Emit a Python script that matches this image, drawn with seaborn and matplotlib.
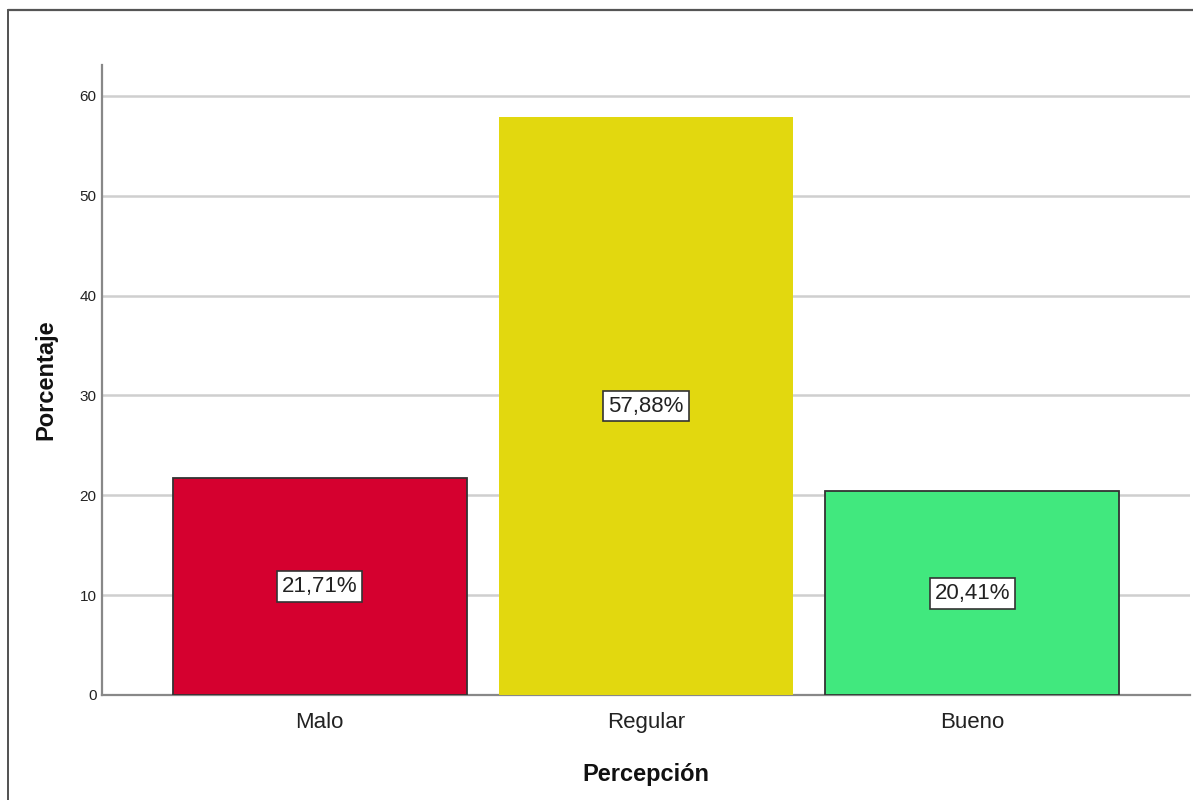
import matplotlib
matplotlib.use("Agg")
import matplotlib.pyplot as plt
import seaborn as sns
import pandas as pd
from matplotlib.lines import Line2D

categories = ["Malo", "Regular", "Bueno"]
porcentajes = [21.71, 57.88, 20.41]
etiquetas = ["21,71%", "57,88%", "20,41%"]
colores = ["#d5002f", "#e2d80f", "#41e87e"]
bordes = ["#333333", "none", "#333333"]
yticks = [0, 10, 20, 30, 40, 50, 60]

df = pd.DataFrame({"Percepción": categories, "Porcentaje": porcentajes})

sns.set_style("white")
plt.rcParams["font.family"] = ["Liberation Sans", "DejaVu Sans"]

fig = plt.figure(figsize=(11.93, 8.0), dpi=100)
ax = fig.add_axes([102 / 1193, 105 / 800, 1088 / 1193, 630 / 800])

sns.barplot(data=df, x="Percepción", y="Porcentaje", hue="Percepción",
            palette=colores, saturation=1, width=0.9, ax=ax, legend=False,
            zorder=3)

for patch, ec in zip(ax.patches, bordes):
    if ec == "none":
        patch.set_edgecolor("none")
    else:
        patch.set_edgecolor(ec)
        patch.set_linewidth(1.3)

for i, (v, lab) in enumerate(zip(porcentajes, etiquetas)):
    ax.text(i, v / 2, lab, ha="center", va="center", fontsize=16,
            color="#222222", zorder=5,
            bbox=dict(boxstyle="square,pad=0.22", facecolor="white",
                      edgecolor="#333333", linewidth=1.2))

ax.set_xlim(-0.667, 2.667)
ax.set_ylim(0, 63.1)
ax.set_yticks(yticks)
ax.set_yticklabels([str(t) for t in yticks], fontsize=11, color="#222222")
ax.tick_params(axis="x", labelsize=16, colors="#222222", length=0, pad=12)
ax.tick_params(axis="y", length=0, pad=4)

ax.yaxis.grid(True, color="#cfcfcf", linewidth=1.8, zorder=0)
ax.set_axisbelow(True)

for s in ["top", "right"]:
    ax.spines[s].set_visible(False)
for s in ["left", "bottom"]:
    ax.spines[s].set_color("#888888")
    ax.spines[s].set_linewidth(1.6)

ax.set_xlabel("Percepción", fontsize=17, fontweight="bold", labelpad=22,
              color="#111111")
ax.set_ylabel("Porcentaje", fontsize=17, fontweight="bold", labelpad=16,
              color="#111111")

# frame around the chart area (left and top edges)
fig.add_artist(Line2D([8 / 1193, 8 / 1193], [0, 1 - 10 / 800],
                      transform=fig.transFigure, color="#333333", linewidth=1.2))
fig.add_artist(Line2D([8 / 1193, 1], [1 - 10 / 800, 1 - 10 / 800],
                      transform=fig.transFigure, color="#555555", linewidth=1.6))

fig.savefig("out.png", dpi=100, facecolor="white")
